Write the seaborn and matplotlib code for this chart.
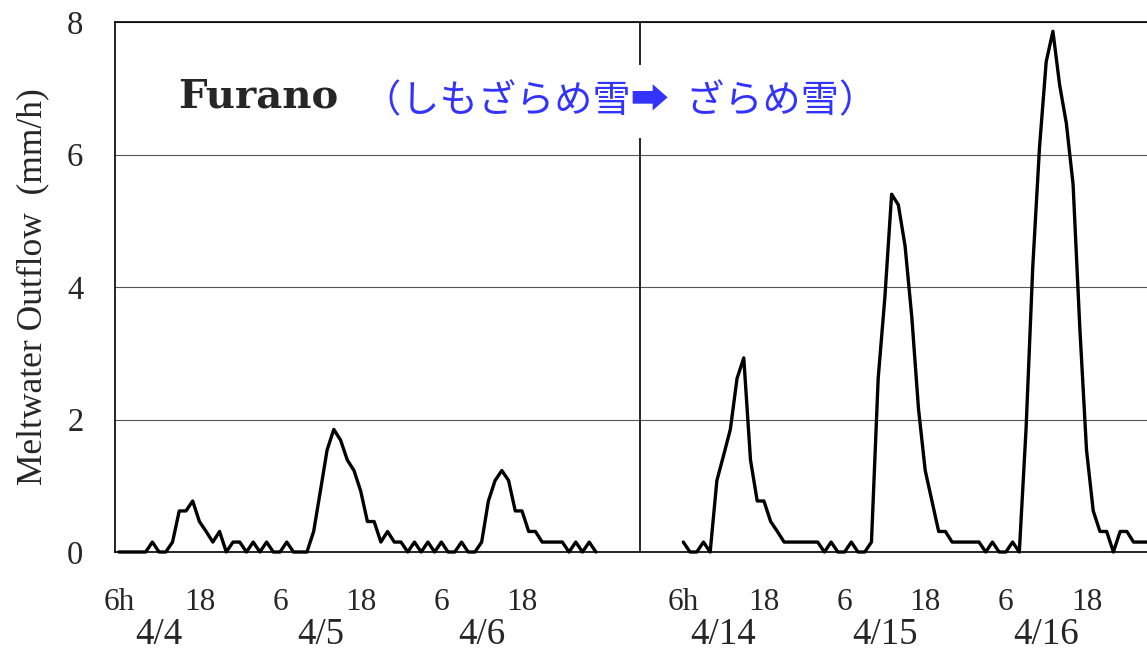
import numpy as np
import pandas as pd
import matplotlib
matplotlib.use("Agg")
import matplotlib.pyplot as plt
import seaborn as sns

# ---- data (hourly meltwater outflow, mm/h) ----
seg1_values = [0, 0, 0, 0, 0, 0.15, 0, 0, 0.15, 0.62, 0.62, 0.77, 0.46, 0.31, 0.15, 0.31,
               0, 0.15, 0.15, 0, 0.15, 0, 0.15, 0, 0, 0.15, 0, 0, 0, 0.31, 0.92, 1.54,
               1.85, 1.69, 1.39, 1.23, 0.92, 0.46, 0.46, 0.15, 0.31, 0.15, 0.15, 0, 0.15, 0,
               0.15, 0, 0.15, 0, 0, 0.15, 0, 0, 0.15, 0.77, 1.08, 1.23, 1.08, 0.62, 0.62,
               0.31, 0.31, 0.15, 0.15, 0.15, 0.15, 0, 0.15, 0, 0.15, 0]
seg2_values = [0.15, 0, 0, 0.15, 0, 1.08, 1.46, 1.85, 2.62, 2.93, 1.39, 0.77, 0.77, 0.46,
               0.31, 0.15, 0.15, 0.15, 0.15, 0.15, 0.15, 0, 0.15, 0, 0, 0.15, 0, 0, 0.15,
               2.62, 3.85, 5.40, 5.24, 4.62, 3.55, 2.16, 1.23, 0.77, 0.31, 0.31, 0.15, 0.15,
               0.15, 0.15, 0.15, 0, 0.15, 0, 0, 0.15, 0, 1.85, 4.3, 6.1, 7.4, 7.86, 7.05,
               6.47, 5.55, 3.39, 1.54, 0.62, 0.31, 0.31, 0, 0.31, 0.31, 0.15, 0.15, 0.15]
seg2_start = 84          # category index where 4/14 6h begins
separator_cat = 78       # vertical divider between the two periods
hour_labels = ["6h", "18", "6", "18", "6", "18"]
hour_cats = [0, 12, 24, 36, 48, 60]
date_labels = ["4/4", "4/5", "4/6", "4/14", "4/15", "4/16"]
date_cats = [6, 30, 54, 90, 114, 138]
y_ticks = [0, 2, 4, 6, 8]
title_text = "Furano"
sub_text = "（しもざらめ雪➡  ざらめ雪）"

x1 = np.arange(len(seg1_values)) + 0.5
x2 = seg2_start + np.arange(len(seg2_values)) + 0.5
df = pd.DataFrame({
    "x": np.concatenate([x1, x2]),
    "v": seg1_values + seg2_values,
    "seg": ["a"] * len(seg1_values) + ["b"] * len(seg2_values),
})

sns.set_style("white")
plt.rcParams["font.family"] = ["Liberation Serif", "DejaVu Serif"]

fig = plt.figure(figsize=(11.47, 6.52), dpi=100)
W, H = 1147, 652
ax = fig.add_axes([115.4 / W, 100 / H, (W - 115.4) / W, 530 / H])

sns.lineplot(data=df, x="x", y="v", units="seg", estimator=None, color="black",
             linewidth=2.4, ax=ax, clip_on=False, zorder=4)

ax.set_xlim(0, 153.5)
ax.set_ylim(0, 8)

for s in ["left", "bottom", "top"]:
    ax.spines[s].set_visible(True)
    ax.spines[s].set_color("black")
    ax.spines[s].set_linewidth(1.2)
ax.spines["right"].set_visible(False)

ax.set_yticks(y_ticks)
ax.set_yticklabels([str(t) for t in y_ticks])
ax.tick_params(axis="y", length=0, pad=23, labelsize=23.5)
ax.yaxis.grid(True, color="#555555", linewidth=0.8)
ax.xaxis.grid(False)

# major ticks between categories (every 6 h), minor ticks carry hour labels
ax.set_xticks(np.arange(0, 154, 6))
ax.set_xticklabels([])
ax.tick_params(axis="x", which="major", direction="in", length=5, width=0.8, color="#555555")
cats_all = hour_cats + [seg2_start + c for c in hour_cats]
ax.set_xticks([c + 0.5 for c in cats_all], minor=True)
ax.set_xticklabels(hour_labels * 2, minor=True)
ax.tick_params(axis="x", which="minor", length=0, pad=26, labelsize=22.5)

trans = ax.get_xaxis_transform()
for c, lab in zip(date_cats, date_labels):
    ax.text(c + 0.5, (552 - 644) / 530, lab, transform=trans, ha="center",
            va="baseline", fontsize=26.5)

ax.set_xlabel("")
ax.set_ylabel("Meltwater Outflow  (mm/h)", fontsize=25.5)
ax.yaxis.label.set_va("center")
ax.yaxis.set_label_coords((33 - 115.4) / (W - 115.4), 0.5)

ax.axvline(separator_cat, color="black", linewidth=1.2, zorder=3)

ax.text(9.3, 6.87, title_text, ha="left", va="center", fontsize=29, fontweight="bold",
        family=["DejaVu Serif"], zorder=5)
ax.text(36.9, 6.80, sub_text, ha="left", va="center", fontsize=27.5, color="#3333ff",
        family=["Noto Sans CJK JP", "DejaVu Sans"], zorder=5,
        bbox=dict(facecolor="white", edgecolor="none", pad=12))

fig.savefig("out.png", dpi=100)
